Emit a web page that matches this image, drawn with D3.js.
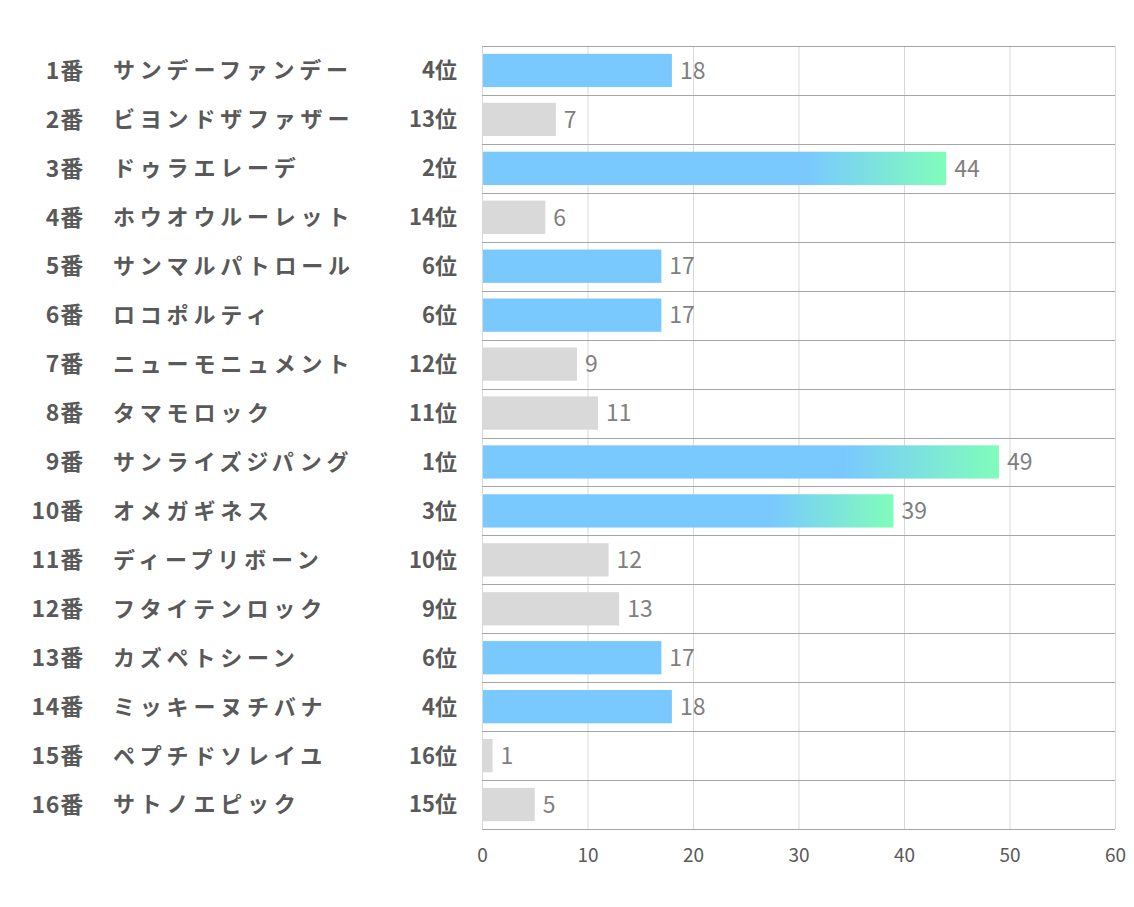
<!DOCTYPE html>
<html>
<head>
<meta charset="utf-8">
<style>
  body { margin: 0; background: #fff; }
  svg { display: block; font-family: "Noto Sans CJK JP", "Noto Sans", sans-serif; }
</style>
</head>
<body>
<svg width="1134" height="907"></svg>
<script src="https://cdn.jsdelivr.net/npm/d3@7"></script>
<script>
const numbers = ["1番","2番","3番","4番","5番","6番","7番","8番","9番","10番","11番","12番","13番","14番","15番","16番"];
const names = ["サンデーファンデー","ビヨンドザファザー","ドゥラエレーデ","ホウオウルーレット","サンマルパトロール","ロコポルティ","ニューモニュメント","タマモロック","サンライズジパング","オメガギネス","ディープリボーン","フタイテンロック","カズペトシーン","ミッキーヌチバナ","ペプチドソレイユ","サトノエピック"];
const ranks = [4,13,2,14,6,6,12,11,1,3,10,9,6,4,16,15];
const values = [18,7,44,6,17,17,9,11,49,39,12,13,17,18,1,5];
const ticks = [0,10,20,30,40,50,60];

const data = numbers.map((n, i) => ({num: n, name: names[i], rank: ranks[i], value: values[i]}));

const svg = d3.select("svg");
const x = d3.scaleLinear().domain([0, 60]).range([482, 1115]);
const y = d3.scaleBand().domain(numbers).range([46, 829]).paddingInner(0.32).paddingOuter(0.16);
const rowStep = (829 - 46) / numbers.length;

const defs = svg.append("defs");
data.filter(d => d.rank <= 3).forEach(d => {
  const g = defs.append("linearGradient")
    .attr("id", "grad" + d.rank)
    .attr("x1", "0%").attr("x2", "100%").attr("y1", "0%").attr("y2", "0%");
  g.append("stop").attr("offset", "70%").attr("stop-color", "#79c9ff");
  g.append("stop").attr("offset", "100%").attr("stop-color", "#80fdbb");
});

// vertical grid
svg.append("g")
  .selectAll("line")
  .data(ticks)
  .join("line")
  .attr("x1", d => x(d) + 0.5).attr("x2", d => x(d) + 0.5)
  .attr("y1", 46).attr("y2", 829)
  .attr("stroke", "#d9d9d9").attr("stroke-width", 1);

// horizontal row lines
svg.append("g")
  .selectAll("line")
  .data(d3.range(numbers.length + 1))
  .join("line")
  .attr("x1", x(0)).attr("x2", x(60))
  .attr("y1", i => Math.round(46 + i * rowStep) + 0.5)
  .attr("y2", i => Math.round(46 + i * rowStep) + 0.5)
  .attr("stroke", "#a6a6a6").attr("stroke-width", 1);

// bars
svg.append("g")
  .selectAll("rect")
  .data(data)
  .join("rect")
  .attr("x", x(0) + 1)
  .attr("y", d => y(d.num))
  .attr("width", d => x(d.value) - x(0) - 1)
  .attr("height", y.bandwidth())
  .attr("fill", d => d.rank <= 3 ? `url(#grad${d.rank})` : (d.rank <= 6 ? "#79c9ff" : "#d9d9d9"));

// value labels
svg.append("g")
  .selectAll("text")
  .data(data)
  .join("text")
  .attr("x", d => x(d.value) + 8)
  .attr("y", d => y(d.num) + y.bandwidth() / 2)
  .attr("dy", "0.36em")
  .attr("font-size", 23)
  .attr("fill", "#7f7f7f")
  .text(d => d.value);

// left labels
const left = svg.append("g").attr("font-weight", "bold").attr("font-size", 22).attr("fill", "#595959");
left.selectAll(".num")
  .data(data)
  .join("text")
  .attr("class", "num")
  .attr("x", 84)
  .attr("y", d => y(d.num) + y.bandwidth() / 2)
  .attr("dy", "0.36em")
  .attr("text-anchor", "end")
  .attr("font-size", 23)
  .attr("letter-spacing", 0.8)
  .text(d => d.num);
left.selectAll(".name")
  .data(data)
  .join("text")
  .attr("class", "name")
  .attr("x", 113)
  .attr("y", d => y(d.num) + y.bandwidth() / 2)
  .attr("dy", "0.36em")
  .attr("letter-spacing", 4.8)
  .text(d => d.name);
left.selectAll(".rank")
  .data(data)
  .join("text")
  .attr("class", "rank")
  .attr("x", 457)
  .attr("y", d => y(d.num) + y.bandwidth() / 2)
  .attr("dy", "0.36em")
  .attr("text-anchor", "end")
  .text(d => d.rank + "位");

// x axis
svg.append("g")
  .attr("transform", "translate(0,829)")
  .call(d3.axisBottom(x).tickValues(ticks).tickSize(0).tickPadding(20))
  .call(g => g.select(".domain").remove())
  .call(g => g.selectAll("text").attr("font-size", 19).attr("fill", "#595959").attr("font-family", "\"Noto Sans CJK JP\", sans-serif"));
</script>
</body>
</html>
